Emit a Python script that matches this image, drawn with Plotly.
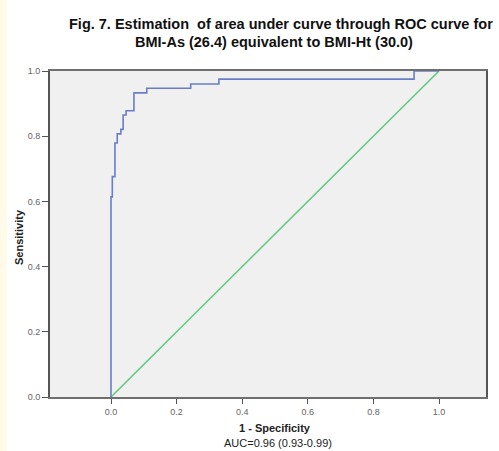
import plotly.graph_objects as go

# ROC curve corner points (1 - specificity, sensitivity)
fpr = [0.0, 0.004, 0.012, 0.019, 0.030, 0.037, 0.046, 0.070, 0.109, 0.243, 0.329, 0.924, 1.0]
tpr = [0.0, 0.614, 0.676, 0.779, 0.807, 0.821, 0.865, 0.878, 0.933, 0.947, 0.960, 0.975, 1.0]
ref_x = [0.0, 1.0]
ref_y = [0.0, 1.0]
tick_vals = [0.0, 0.2, 0.4, 0.6, 0.8, 1.0]
title_lines = ["Fig. 7. Estimation  of area under curve through ROC curve for",
               "BMI-As (26.4) equivalent to BMI-Ht (30.0)"]
x_title = "1 - Specificity"
y_title = "Sensitivity"
auc_text = "AUC=0.96 (0.93-0.99)"

W, H = 499, 451
ML, MR, MT, MB = 50, 13, 71, 54
PW, PH = W - ML - MR, H - MT - MB

def px_x(px):
    return (px - ML) / PW

def px_y(py):
    return (H - MB - py) / PH

fig = go.Figure()
fig.add_trace(go.Scatter(x=ref_x, y=ref_y, mode="lines",
                         line=dict(color="#66cc80", width=1.6), showlegend=False))
fig.add_trace(go.Scatter(x=fpr, y=tpr, mode="lines", line_shape="vh",
                         line=dict(color="#6a7ec8", width=1.6), showlegend=False))

font_family = "Liberation Sans, Arial, sans-serif"
annotations = [
    dict(text="<b>" + title_lines[0] + "</b>", x=px_x(281), y=px_y(24), xref="paper", yref="paper",
         showarrow=False, xanchor="center", yanchor="middle",
         font=dict(family=font_family, size=14.5, color="#111")),
    dict(text="<b>" + title_lines[1] + "</b>", x=px_x(274), y=px_y(42), xref="paper", yref="paper",
         showarrow=False, xanchor="center", yanchor="middle",
         font=dict(family=font_family, size=14.5, color="#111")),
    dict(text="<b>" + x_title + "</b>", x=px_x(275), y=px_y(428), xref="paper", yref="paper",
         showarrow=False, xanchor="center", yanchor="middle",
         font=dict(family=font_family, size=11, color="#222")),
    dict(text=auc_text, x=px_x(278), y=px_y(443), xref="paper", yref="paper",
         showarrow=False, xanchor="center", yanchor="middle",
         font=dict(family=font_family, size=11, color="#222")),
    dict(text="<b>" + y_title + "</b>", x=px_x(19), y=px_y(237), xref="paper", yref="paper",
         showarrow=False, xanchor="center", yanchor="middle", textangle=-90,
         font=dict(family=font_family, size=11, color="#222")),
]

fig.update_layout(
    width=W, height=H,
    margin=dict(l=ML, r=MR, t=MT, b=MB, pad=0),
    paper_bgcolor="white",
    plot_bgcolor="#f0f0f0",
    annotations=annotations,
    shapes=[dict(type="rect", xref="paper", yref="paper",
                 x0=px_x(-5), x1=px_x(7), y0=px_y(H + 10), y1=px_y(-10),
                 fillcolor="#fffbe8", line=dict(width=0), layer="below")],
    xaxis=dict(range=[(ML - 111) / 328, (W - MR - 111) / 328], tickvals=tick_vals,
               tickformat=".1f", showgrid=False, zeroline=False,
               showline=True, linecolor="#6f6f6f", linewidth=2, mirror=True,
               ticks="outside", ticklen=5, tickcolor="#555", tickwidth=1,
               tickfont=dict(family=font_family, size=9, color="#666")),
    yaxis=dict(range=[0, 1], tickvals=tick_vals, tickformat=".1f",
               showgrid=False, zeroline=False,
               showline=True, linecolor="#555", linewidth=2, mirror=True,
               ticks="outside", ticklen=6, tickcolor="#555", tickwidth=1,
               tickfont=dict(family=font_family, size=9, color="#666")),
)

fig.write_html("out.html")
